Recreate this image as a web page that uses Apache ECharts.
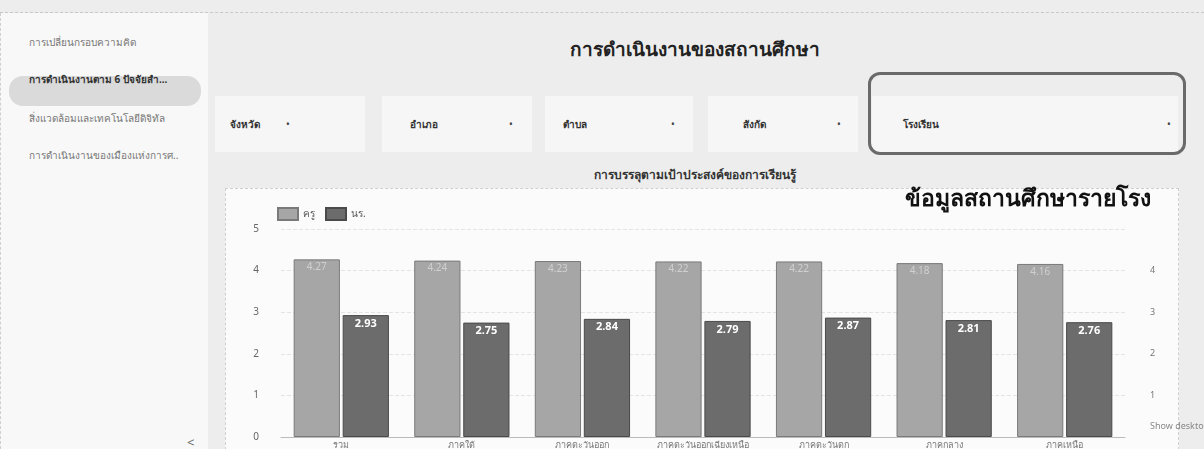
<!DOCTYPE html>
<html>
<head>
<meta charset="utf-8">
<script src="https://cdn.jsdelivr.net/npm/echarts@6/dist/echarts.min.js"></script>
<style>
  html,body{margin:0;padding:0;width:1204px;height:449px;overflow:hidden;background:#ededed;font-family:"Noto Sans",sans-serif;}
  .abs{position:absolute;}
  #topline{left:0;top:12px;width:1204px;border-top:1px dashed #c8c8c8;}
  #sidebar{left:0;top:13px;width:207px;height:436px;background:#f8f8f8;border-left:1px dashed #d0d0d0;}
  .side{position:absolute;left:28px;font-size:10px;color:#777;white-space:nowrap;}
  #sel{left:8px;top:63px;width:192px;height:30px;background:#dadada;border-radius:14px;}
  .dd{position:absolute;top:96px;height:56px;background:#f6f6f6;}
  .ddt{position:absolute;top:117px;font-size:10px;color:#333;font-weight:bold;}
  .arr{position:absolute;top:117px;font-size:10px;color:#444;}
  #hl{left:868px;top:72px;width:312px;height:77px;border:3px solid #6a6a6a;border-radius:12px;}
  #title{left:480px;top:34px;width:430px;text-align:center;font-size:19px;font-weight:bold;color:#222;}
  #ctitle{left:480px;top:165px;width:430px;text-align:center;font-size:12px;font-weight:bold;color:#333;}
  #panel{left:225px;top:188px;width:952px;height:270px;background:#fbfbfb;border:1px dashed #cfcfcf;}
  #chart{left:225px;top:188px;width:952px;height:300px;}
  #note{left:905px;top:180px;font-size:23px;font-weight:bold;color:#111;white-space:nowrap;}
  #showd{left:1150px;top:419px;font-size:9px;color:#888;white-space:nowrap;}
  #back{left:186px;top:420px;font-size:13px;color:#666;}
</style>
</head>
<body>
<div id="topline" class="abs"></div>
<div id="sidebar" class="abs">
  <div id="sel" class="abs"></div>
  <div class="side" style="top:22px;">การเปลี่ยนกรอบความคิด</div>
  <div class="side" style="top:59px;color:#333;font-weight:bold;">การดำเนินงานตาม 6 ปัจจัยสำ...</div>
  <div class="side" style="top:98px;">สิ่งแวดล้อมและเทคโนโลยีดิจิทัล</div>
  <div class="side" style="top:135px;">การดำเนินงานของเมืองแห่งการศ..</div>
  <div id="back" class="abs">&lt;</div>
</div>
<div id="title" class="abs">การดำเนินงานของสถานศึกษา</div>
<div class="dd" style="left:215px;width:150px;"></div>
<div class="dd" style="left:382px;width:150px;"></div>
<div class="dd" style="left:545px;width:148px;"></div>
<div class="dd" style="left:708px;width:150px;"></div>
<div class="dd" style="left:872px;width:306px;"></div>
<div class="ddt" style="left:230px;">จังหวัด</div><div class="arr" style="left:286px;">•</div>
<div class="ddt" style="left:410px;">อำเภอ</div><div class="arr" style="left:509px;">•</div>
<div class="ddt" style="left:563px;">ตำบล</div><div class="arr" style="left:671px;">•</div>
<div class="ddt" style="left:743px;">สังกัด</div><div class="arr" style="left:837px;">•</div>
<div class="ddt" style="left:903px;">โรงเรียน</div><div class="arr" style="left:1167px;">•</div>
<div id="hl" class="abs"></div>
<div id="ctitle" class="abs">การบรรลุตามเป้าประสงค์ของการเรียนรู้</div>
<div id="panel" class="abs"></div>
<div id="chart" class="abs"></div>
<div id="note" class="abs">ข้อมูลสถานศึกษารายโรง</div>
<div id="showd" class="abs">Show desktop</div>
<script>
const categories = ['รวม','ภาคใต้','ภาคตะวันออก','ภาคตะวันออกเฉียงเหนือ','ภาคตะวันตก','ภาคกลาง','ภาคเหนือ'];
const teacherValues = [4.27, 4.24, 4.23, 4.22, 4.22, 4.18, 4.16];
const studentValues = [2.93, 2.75, 2.84, 2.79, 2.87, 2.81, 2.76];
const seriesNames = ['ครู', 'นร.'];

const chart = echarts.init(document.getElementById('chart'), null, {renderer:'canvas'});
chart.setOption({
  animation:false,
  textStyle:{fontFamily:'"Noto Sans", sans-serif'},
  legend:{
    left:47, top:14, itemWidth:20, itemHeight:12, itemGap:10, icon:'rect',
    textStyle:{fontSize:10, color:'#555'},
    data:seriesNames
  },
  grid:{left:56, right:52, top:41, bottom:51},
  xAxis:{
    type:'category', data:categories,
    axisLine:{lineStyle:{color:'#bbb'}},
    axisTick:{show:false},
    axisLabel:{fontSize:9, color:'#777', margin:4, interval:0}
  },
  yAxis:[
    {type:'value', min:0, max:5, interval:1,
     axisLabel:{fontSize:10, color:'#666', margin:22},
     splitLine:{lineStyle:{color:'#e4e4e4', type:'dashed'}}},
    {type:'value', min:0, max:5, interval:1, position:'right',
     axisLabel:{fontSize:9, color:'#777', margin:25,
       formatter:v => (v===0||v===5)?'':String(v)},
     splitLine:{show:false}}
  ],
  series:[
    {name:seriesNames[0], type:'bar', data:teacherValues, barGap:'6%', barCategoryGap:'21%',
     itemStyle:{color:'#a6a6a6', borderColor:'#7a7a7a', borderWidth:1},
     label:{show:true, position:'insideTop', color:'#d0d0d0', fontSize:10, offset:[0,-2]}},
    {name:seriesNames[1], type:'bar', data:studentValues,
     itemStyle:{color:'#6c6c6c', borderColor:'#4a4a4a', borderWidth:1},
     label:{show:true, position:'insideTop', color:'#ffffff', fontSize:11, fontWeight:'bold', offset:[0,-2]}}
  ]
});
</script>
</body>
</html>
